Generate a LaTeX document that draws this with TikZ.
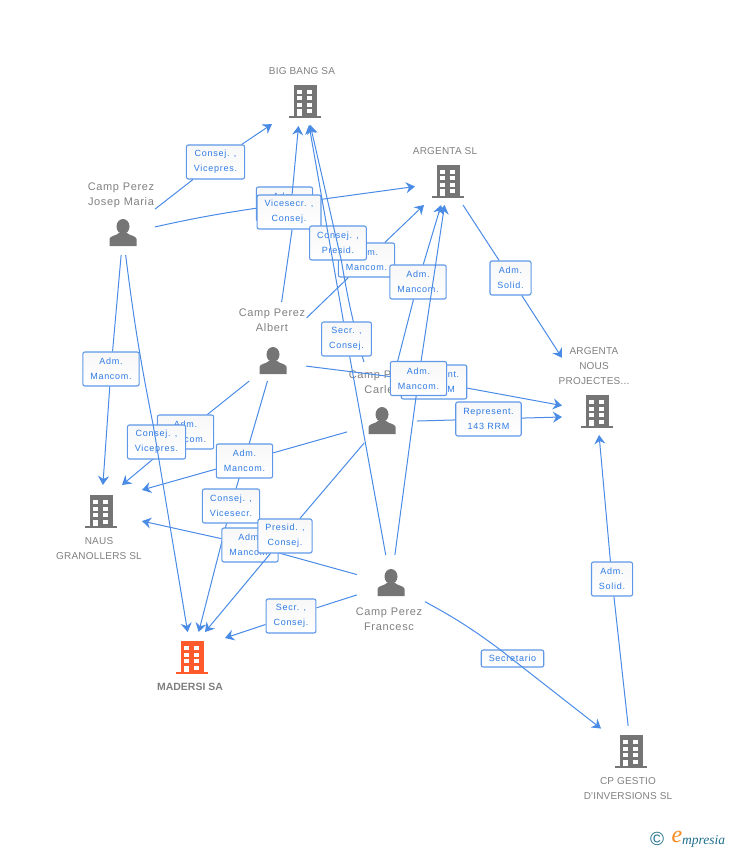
\documentclass[tikz,border=0pt]{standalone}
\usepackage{xcolor}
\usepackage{fontspec}
\setmainfont{Liberation Sans}
\newfontfamily\relfont[LetterSpace=8]{Liberation Sans}
\newfontfamily\whofont[LetterSpace=6]{Liberation Sans}
\newfontfamily\orgfont[LetterSpace=2]{Liberation Sans}
\newfontfamily\logofont{Liberation Serif}
\usetikzlibrary{arrows.meta, positioning}
\definecolor{linkblue}{HTML}{4A8BE6}
\definecolor{edgeblue}{HTML}{5F98E8}
\definecolor{textblue}{HTML}{2F7BE4}
\definecolor{icongrey}{HTML}{757575}
\definecolor{namegrey}{HTML}{808080}
\definecolor{mainred}{HTML}{FF5A2B}
\definecolor{logoteal}{HTML}{1F6E8C}
\definecolor{logoorange}{HTML}{F58A1F}
\tikzset{
  hub/.style={minimum width=66pt,minimum height=42pt,inner sep=0pt,outer sep=0pt},
  org/.style={hub,minimum height=46pt},
  who/.style={align=center,text=namegrey,inner sep=0pt,font=\whofont\fontsize{11}{15}\selectfont},
  orgname/.style={align=center,text=namegrey,inner sep=0pt,font=\orgfont\fontsize{10}{15}\selectfont},
  rel/.style={draw=edgeblue,line width=1.1pt,rounded corners=2pt,top color=black!3,bottom color=white,
    text=textblue,align=center,inner xsep=7.5pt,inner ysep=0pt,minimum height=34pt,
    font=\relfont\fontsize{9}{15}\selectfont},
  wire/.style={draw=linkblue,line width=1pt},
  link/.style={wire,-{Stealth[length=9pt,width=11pt,inset=3pt]}},
  pics/building/.style={code={
    \fill[#1] (-11.5,-17) rectangle (11.5,15);
    \fill[#1] (-16,14) rectangle (16,16);
    \fill[white] (-8,-12) rectangle (-3,-8);
    \fill[white] (2,-12) rectangle (7,-8);
    \fill[white] (-8,-5.5) rectangle (-3,-1.5);
    \fill[white] (2,-5.5) rectangle (7,-1.5);
    \fill[white] (-8,1) rectangle (-3,5);
    \fill[white] (2,1) rectangle (7,5);
    \fill[white] (-8,7.5) rectangle (-3,14);
    \fill[white] (2,7.5) rectangle (7,11.5);
  }},
  pics/person/.style={code={
    \fill[icongrey] (0,-7.5) ellipse (6.5 and 7.5);
    \fill[icongrey] (-13.5,12) -- (-13.5,5) .. controls (-13,1.5) and (-7,2) .. (-4,-1)
      -- (4,-1) .. controls (7,2) and (13,1.5) .. (13.5,5) -- (13.5,12) -- cycle;
  }}
}
\begin{document}
\begin{tikzpicture}[x=1pt,y=-1pt]
  \useasboundingbox (0,0) rectangle (728,850);
  % companies
  \node[org] (bigbang) at (305,102) {};
  \node[org] (argenta) at (448,182) {};
  \node[org,minimum width=70pt] (argnous) at (597,412) {};
  \node[org,minimum width=70pt,minimum height=134pt] (argnousup) at (597,412) {};
  \node[org,minimum width=82pt,minimum height=54pt] (naus) at (101,512) {};
  \node[org,minimum height=52pt] (madersi) at (192,658) {};
  \node[org,minimum width=60pt,minimum height=52pt] (cpgestio) at (631,752) {};
  \pic at (bigbang) {building=icongrey};
  \pic at (argenta) {building=icongrey};
  \pic at (argnous) {building=icongrey};
  \pic at (naus) {building=icongrey};
  \pic at (madersi) {building=mainred};
  \pic at (cpgestio) {building=icongrey};
  \node[orgname] (bigbangname) at (302,71) {BIG BANG SA};
  \node[orgname] (argentaname) at (445,151) {ARGENTA SL};
  \node[orgname] (argnousname) at (594,366) {ARGENTA\\NOUS\\PROJECTES...};
  \node[orgname] (nausname) at (99,549) {NAUS\\GRANOLLERS SL};
  \node[orgname,font=\fontsize{10.5}{15}\selectfont\bfseries] (madersiname) at (190,687) {MADERSI SA};
  \node[orgname] (cpgestioname) at (628,789) {CP GESTIO\\D'INVERSIONS SL};
  % arrow ends
  \coordinate (bigbangin) at (298.5,126);
  \coordinate (nausina) at (122,485);
  \coordinate (nausinb) at (142,490);
  \coordinate (madersiina) at (205,632);
  \coordinate (madersiinb) at (225,638);
  \coordinate (argnousin) at (562,417);
  \coordinate (albertout) at (306.5,318);
  % people
  \node[hub,minimum width=64pt] (josep) at (123,234) {};
  \node[hub,minimum width=64pt,minimum height=100pt] (josepup) at (123,234) {};
  \node[hub,minimum height=38pt] (albert) at (273,362) {};
  \node[hub,minimum height=120pt] (albertup) at (273,362) {};
  \node[hub,minimum width=70pt] (carles) at (382,422) {};
  \node[hub,minimum width=70pt,minimum height=120pt] (carlesup) at (382,422) {};
  \node[hub,minimum width=68pt,minimum height=58pt] (francesc) at (391,584) {};
  \pic at (josep) {person};
  \pic at (albert) {person};
  \pic at (carles) {person};
  \pic at (francesc) {person};
  \node[who] (josepname) at (121,195) {Camp Perez\\Josep Maria};
  \node[who] (albertname) at (272,320.5) {Camp Perez\\Albert};
  \node[who] (carlesname) at (382,382) {Camp Perez\\Carles};
  \node[who] (francescname) at (389,619) {Camp Perez\\Francesc};
  % roles and links
  \node[rel] (jbigbang) at (215.5,162) {Consej. ,\\Vicepres.};
  \draw[link] (josepup) -- (jbigbang) -- (bigbang);
  \node[rel] (jargenta) at (284.5,204) {Adm.\\Mancom.};
  \draw[link] (josep) to[bend left=2] (jargenta) -- (argenta);
  \node[rel] (jnaus) at (111,369) {Adm.\\Mancom.};
  \draw[link] (josep) -- (jnaus) -- (naus);
  \node[rel] (anaus) at (185.5,432) {Adm.\\Mancom.};
  \draw[link] (albert) -- (anaus) -- (nausina);
  \node[rel] (jmadersi) at (156.5,442) {Consej. ,\\Vicepres.};
  \draw[link] (josep) to[bend right=2] (jmadersi) -- (madersi);
  \node[rel] (abigbang) at (289,212) {Vicesecr. ,\\Consej.};
  \draw[wire] (albertup) -- (abigbang.-80);
  \draw[link] (abigbang.80) -- (bigbangin);
  \node[rel] (aargenta) at (366.5,260) {Adm.\\Mancom.};
  \draw[link] (albertout) -- (aargenta) -- (argenta);
  \node[rel] (cbigbang) at (338,243) {Consej. ,\\Presid.};
  \draw[link] (carlesup) to[bend left=3] (cbigbang) -- (bigbang);
  \node[rel] (cargenta) at (418,282) {Adm.\\Mancom.};
  \draw[link] (carlesup) -- (cargenta) -- (argenta);
  \node[rel] (fbigbang) at (346.5,339) {Secr. ,\\Consej.};
  \draw[link] (francesc) -- (fbigbang) -- (bigbang);
  \node[rel] (aargnous) at (434,382) {Represent.\\143 RRM};
  \draw[link] (albert) -- (aargnous) -- (argnous);
  \node[rel] (fargenta) at (418.5,378.5) {Adm.\\Mancom.};
  \draw[link] (francesc) -- (fargenta) -- (argenta);
  \node[rel] (cargnous) at (488.5,419) {Represent.\\143 RRM};
  \draw[link] (carles) -- (cargnous) -- (argnousin);
  \node[rel] (amadersi) at (231,506) {Consej. ,\\Vicesecr.};
  \draw[link] (albert) -- (amadersi) -- (madersi);
  \node[rel] (cnaus) at (244.5,461) {Adm.\\Mancom.};
  \draw[link] (carles) -- (cnaus) -- (nausinb);
  \node[rel] (fnaus) at (250,545) {Adm.\\Mancom.};
  \draw[link] (francesc) -- (fnaus) -- (naus);
  \node[rel] (cmadersi) at (285,536) {Presid. ,\\Consej.};
  \draw[link] (carles) -- (cmadersi) -- (madersiina);
  \node[rel] (fmadersi) at (291,616) {Secr. ,\\Consej.};
  \draw[link] (francesc) -- (fmadersi) -- (madersiinb);
  \node[rel,minimum height=17pt] (fcpgestio) at (512.5,658.5) {Secretario};
  \draw[link] (francesc) to[bend left=4] (fcpgestio) -- (cpgestio);
  \node[rel] (argsolid) at (510.5,278) {Adm.\\Solid.};
  \draw[link] (argenta) -- (argsolid) -- (argnousup);
  \node[rel] (cpsolid) at (612,579) {Adm.\\Solid.};
  \draw[link] (cpgestio) -- (cpsolid) -- (argnous);
  % logo
  \node[text=logoteal,inner sep=0pt,font=\fontsize{19}{19}\selectfont] (logocopy) at (657,839) {©};
  \node[text=logoorange,inner sep=0pt,font=\logofont\itshape\fontsize{24}{24}\selectfont] (logoe) at (677,837) {e};
  \node[text=logoteal,inner sep=0pt,anchor=west,font=\logofont\itshape\fontsize{13.5}{14}\selectfont] (logoname) at (682,841) {mpresia};
\end{tikzpicture}
\end{document}
